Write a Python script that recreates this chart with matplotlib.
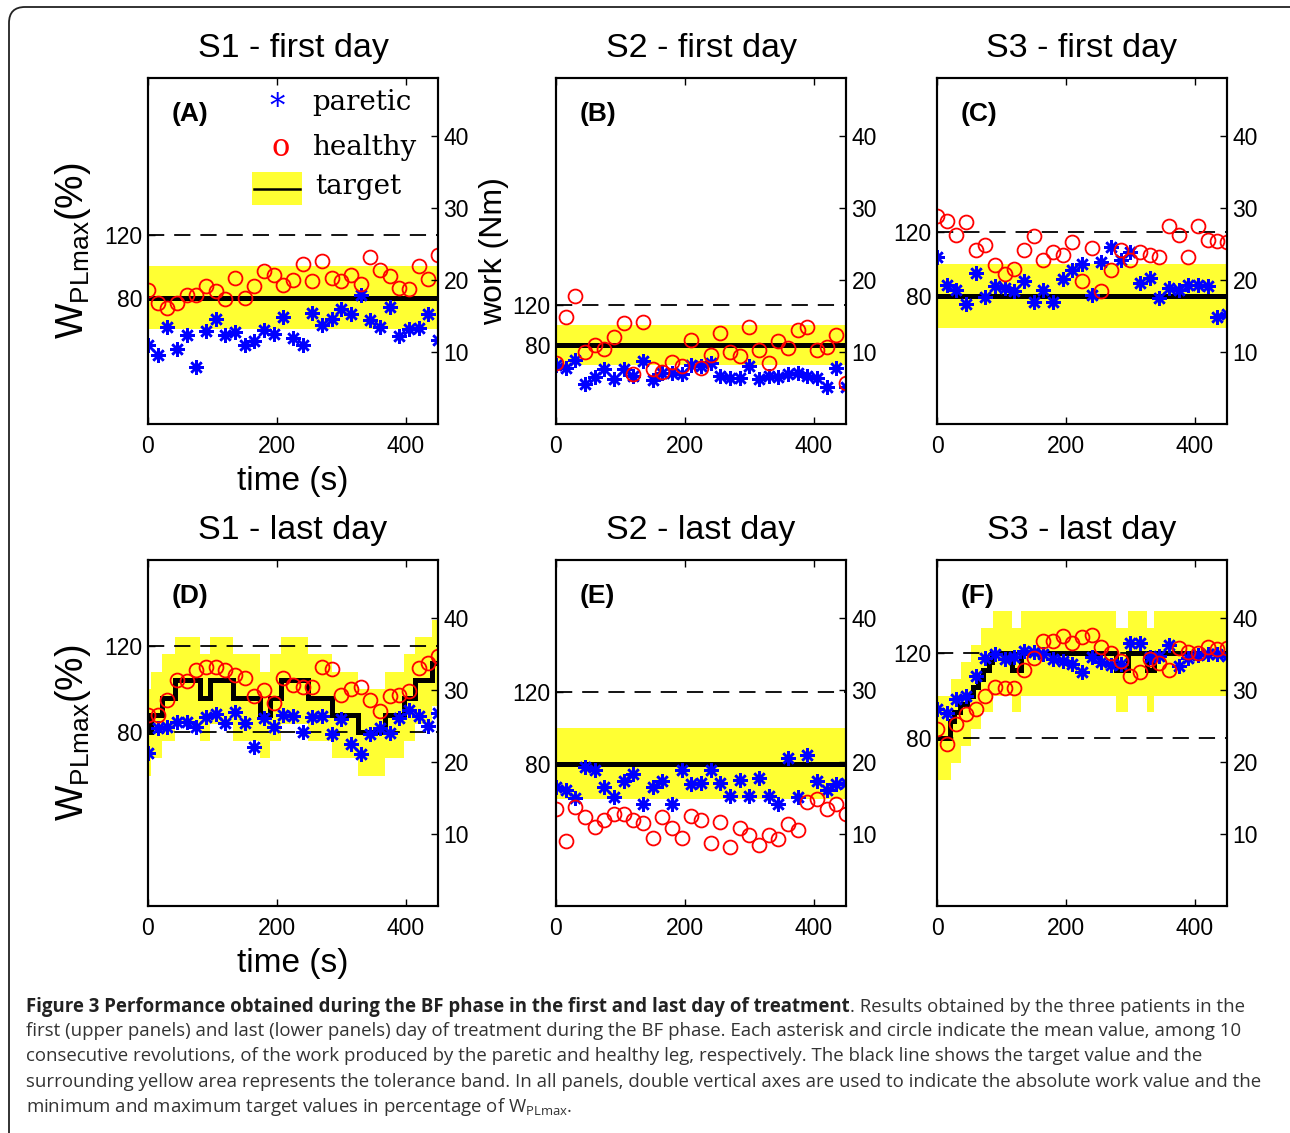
import numpy as np
import matplotlib.pyplot as plt
from matplotlib.patches import FancyBboxPatch, Rectangle

plt.rcParams['font.family'] = ['Liberation Sans', 'DejaVu Sans']
plt.rcParams['mathtext.fontset'] = 'custom'
plt.rcParams['mathtext.rm'] = 'Liberation Sans'

# time of each 10-revolution block (s)
time_s = [0, 15, 30, 45, 60, 75, 90, 105, 120, 135, 150, 165, 180, 195, 210, 225,
          240, 255, 270, 285, 300, 315, 330, 345, 360, 375, 390, 405, 420, 435, 450]

titles = ['S1 - first day', 'S2 - first day', 'S3 - first day',
          'S1 - last day', 'S2 - last day', 'S3 - last day']
tags = ['(A)', '(B)', '(C)', '(D)', '(E)', '(F)']

# W_PLmax of each panel (Nm)
w_plmax = [21.85, 13.7, 22.2, 30.1, 24.7, 29.2]

# work (Nm)
paretic_a = [11.0, 9.6, 13.5, 10.4, 12.4, 7.9, 12.9, 14.6, 12.4, 12.7, 10.9, 11.5, 13.0, 12.5, 14.8, 11.9,
             11.0, 15.4, 13.7, 14.6, 16.0, 15.3, 17.9, 14.4, 13.5, 16.3, 12.2, 13.2, 13.3, 15.2, 11.7]
healthy_a = [18.6, 16.8, 16.1, 16.8, 17.9, 17.9, 19.1, 18.4, 17.3, 20.2, 17.5, 19.1, 21.2, 20.7, 19.3, 20.0,
             22.2, 19.9, 22.6, 20.2, 19.9, 20.7, 19.4, 23.2, 21.4, 20.6, 18.8, 18.7, 21.9, 20.1, 23.5]
paretic_b = [8.2, 7.8, 8.9, 5.6, 6.5, 7.6, 6.3, 7.6, 6.7, 8.8, 6.1, 7.1, 7.1, 6.9, 8.2, 8.0,
             8.4, 6.7, 6.4, 6.4, 8.1, 6.2, 6.7, 6.5, 7.0, 7.1, 6.6, 6.4, 5.1, 7.8, 5.2]
healthy_b = [8.4, 14.8, 17.8, 10.0, 10.9, 10.4, 12.1, 14.0, 6.9, 14.2, 7.6, 7.2, 8.6, 8.0, 11.6, 7.7,
             9.6, 12.6, 10.0, 9.5, 13.5, 10.3, 8.5, 11.5, 10.6, 13.0, 13.5, 10.2, 10.7, 12.3, 5.7]
paretic_c = [23.1, 19.3, 18.6, 16.6, 20.9, 17.6, 19.1, 18.9, 18.4, 19.8, 16.9, 18.6, 16.9, 20.1, 21.4, 22.2,
             17.9, 22.5, 24.6, 22.8, 23.9, 19.6, 20.2, 17.5, 18.8, 18.6, 19.3, 19.3, 19.1, 14.8, 15.3]
healthy_c = [28.8, 28.2, 26.2, 28.0, 24.1, 24.8, 22.1, 20.8, 21.5, 24.1, 26.1, 22.8, 23.8, 23.5, 25.3, 19.9,
             24.4, 18.4, 21.3, 24.2, 22.8, 23.8, 23.5, 23.2, 27.5, 26.2, 23.1, 27.5, 25.5, 25.4, 25.2]
paretic_d = [21.2, 24.7, 24.8, 25.5, 25.5, 24.9, 26.2, 26.7, 25.4, 26.9, 25.4, 22.1, 26.1, 24.8, 26.5, 26.3,
             24.1, 26.2, 26.3, 23.9, 25.9, 22.5, 21.1, 23.8, 24.7, 24.0, 26.1, 27.2, 26.4, 25.0, 26.8]
healthy_d = [26.5, 26.5, 28.6, 31.4, 31.2, 32.7, 33.2, 33.2, 32.8, 32.1, 31.6, 29.1, 30.0, 28.2, 31.6, 30.6,
             30.4, 30.4, 33.2, 32.9, 29.3, 30.1, 30.4, 28.6, 27.0, 29.1, 29.3, 29.8, 33.0, 33.7, 34.7]
paretic_e = [16.5, 16.1, 15.0, 19.3, 18.8, 16.5, 15.1, 17.3, 18.3, 14.2, 16.5, 17.4, 14.1, 18.8, 16.9, 17.0,
             18.8, 17.0, 15.3, 17.5, 15.2, 17.7, 15.2, 14.2, 20.6, 15.1, 21.0, 17.4, 16.1, 16.9, 17.1]
healthy_e = [13.4, 9.0, 13.7, 12.4, 11.0, 11.9, 12.7, 12.8, 11.9, 11.5, 9.5, 12.3, 10.8, 9.5, 12.5, 11.9,
             8.8, 11.6, 8.2, 10.8, 9.9, 8.5, 9.8, 9.3, 11.4, 10.6, 14.4, 14.8, 13.4, 14.2, 12.8]
paretic_f = [27.3, 26.8, 28.7, 29.1, 31.9, 34.4, 34.9, 34.3, 34.6, 35.4, 35.2, 34.9, 34.3, 34.0, 33.6, 32.4,
             34.5, 33.8, 33.4, 33.6, 36.5, 36.5, 34.6, 34.7, 36.2, 33.3, 34.4, 34.8, 34.9, 35.0, 34.7]
healthy_f = [24.5, 22.5, 25.2, 26.7, 27.3, 29.1, 30.4, 30.2, 30.2, 32.8, 34.4, 36.7, 36.7, 37.4, 36.5, 37.3,
             37.6, 36.0, 35.1, 34.0, 31.9, 32.4, 34.2, 33.7, 32.8, 35.8, 35.3, 35.1, 36.0, 35.6, 35.8]

# target (% of W_PLmax), as steps
flat_edges = [0, 450]
flat_pct = [80]
target_edges_d = [0, 4.7, 21, 42, 81, 96, 132, 174, 189, 207, 249, 285, 326, 367, 398, 414, 440, 450]
target_pct_d = [80, 88, 96, 104, 96, 104, 96, 88, 96, 104, 96, 88, 80, 88, 96, 104, 112]
target_edges_f = [0, 20, 27, 35, 47, 56, 64, 72, 80, 86, 117, 130, 277, 296, 326, 337, 450]
target_pct_f = [80, 88, 92, 96, 100, 104, 108, 112, 116, 120, 112, 120, 112, 120, 112, 120]
band_edges_f = [0, 22, 37, 53, 68, 87, 117, 130, 277, 296, 326, 337, 450]
band_pct_f = [80, 88, 96, 104, 112, 120, 112, 120, 112, 120, 112, 120]
band_half = 20  # tolerance, % of W_PLmax

dashed_top = [120]
dashed_both = [80, 120]

panels = [
    (paretic_a, healthy_a, flat_edges, flat_pct, flat_edges, flat_pct, dashed_top),
    (paretic_b, healthy_b, flat_edges, flat_pct, flat_edges, flat_pct, dashed_top),
    (paretic_c, healthy_c, flat_edges, flat_pct, flat_edges, flat_pct, dashed_top),
    (paretic_d, healthy_d, target_edges_d, target_pct_d, target_edges_d, target_pct_d, dashed_both),
    (paretic_e, healthy_e, flat_edges, flat_pct, flat_edges, flat_pct, dashed_top),
    (paretic_f, healthy_f, target_edges_f, target_pct_f, band_edges_f, band_pct_f, dashed_both),
]

YELLOW = '#ffff33'
W, H = 1290, 1133
fig = plt.figure(figsize=(W / 100, H / 100), dpi=100)

box = FancyBboxPatch((0.09, -0.3), 13.3, 11.56, boxstyle='round,pad=0,rounding_size=0.16',
                     transform=fig.dpi_scale_trans, facecolor='none', edgecolor='#222222',
                     linewidth=1.3, clip_on=False)
fig.patches.append(box)

lefts = [148, 556, 937]
bottoms = [424, 906]
aw, ah = 290, 346

axes = []
for i, (par, hea, t_edges, t_pct, b_edges, b_pct, dashed) in enumerate(panels):
    r, c = divmod(i, 3)
    ax = fig.add_axes([lefts[c] / W, 1 - bottoms[r] / H, aw / W, ah / H])
    wmax = w_plmax[i]
    b_nm = np.array(b_pct) / 100 * wmax
    ax.stairs(b_nm + band_half / 100 * wmax, b_edges, baseline=b_nm - band_half / 100 * wmax,
              fill=True, color=YELLOW, linewidth=0, zorder=1)
    for p in dashed:
        ax.axhline(p / 100 * wmax, color='k', lw=1.3, dashes=(9, 5.5), zorder=2)
    ax.stairs(np.array(t_pct) / 100 * wmax, t_edges, baseline=None, color='k', lw=3.6, zorder=3)
    ax.plot(time_s, par, linestyle='none', marker=(8, 2, 0), ms=10.5, mew=1.8, color='#0000ff', zorder=4)
    ax.plot(time_s, hea, linestyle='none', marker='o', ms=10, mew=1.3, mfc='none', mec='#ff0000', zorder=5)

    ax.set_xlim(0, 450)
    ax.set_ylim(0, 48)
    ax.set_xticks([0, 200, 400])
    ax.set_yticks([0.8 * wmax, 1.2 * wmax])
    ax.set_yticklabels(['80', '120'])
    ax.tick_params(axis='both', direction='in', labelsize=16.5, length=5, width=1, top=True)
    ax.tick_params(axis='x', pad=8)
    ax.tick_params(axis='y', pad=4)
    for s in ax.spines.values():
        s.set_linewidth(1.5)

    ax2 = ax.twinx()
    ax2.set_ylim(0, 48)
    ax2.set_yticks([10, 20, 30, 40])
    ax2.tick_params(axis='y', direction='in', labelsize=16.5, length=5, width=1, pad=4)
    for s in ax2.spines.values():
        s.set_linewidth(1.5)

    ax.set_title(titles[i], fontsize=24.5, pad=15)
    ax.text(0.083, 0.895, tags[i], transform=ax.transAxes, fontsize=19, fontweight='bold',
            va='center', ha='left')
    axes.append(ax)

for ax in (axes[0], axes[3]):
    ax.set_xlabel('time (s)', fontsize=24, labelpad=6)
    ax.set_ylabel(r'W$_{\mathregular{PLmax}}$(%)', fontsize=27, labelpad=8)
axes[1].set_ylabel('work (Nm)', fontsize=23, labelpad=2)

# legend of panel A
la = axes[0]
serif = 'DejaVu Serif'
la.text(0.445, 0.915, '*', transform=la.transAxes, color='#0000ff', fontsize=22,
        family=serif, ha='center', va='center')
la.text(0.566, 0.93, 'paretic', transform=la.transAxes, fontsize=20, family=serif, va='center')
la.text(0.459, 0.80, 'o', transform=la.transAxes, color='#ff0000', fontsize=22,
        family=serif, ha='center', va='center')
la.text(0.566, 0.80, 'healthy', transform=la.transAxes, fontsize=20, family=serif, va='center')
la.add_patch(Rectangle((0.359, 0.633), 0.172, 0.095, transform=la.transAxes,
                       facecolor=YELLOW, edgecolor='none', zorder=6))
la.plot([0.365, 0.525], [0.679, 0.679], transform=la.transAxes, color='k', lw=1.8, zorder=7)
la.text(0.576, 0.685, 'target', transform=la.transAxes, fontsize=20, family=serif, va='center')

# caption
cap_font = 'Open Sans'
cap_bold = 'Figure 3 Performance obtained during the BF phase in the first and last day of treatment'
cap_lines = [
    '. Results obtained by the three patients in the',
    'first (upper panels) and last (lower panels) day of treatment during the BF phase. '
    'Each asterisk and circle indicate the mean value, among 10',
    'consecutive revolutions, of the work produced by the paretic and healthy leg, respectively. '
    'The black line shows the target value and the',
    'surrounding yellow area represents the tolerance band. In all panels, double vertical axes '
    'are used to indicate the absolute work value and the',
    r'minimum and maximum target values in percentage of W$_{\mathregular{PLmax}}$.',
]
cap_base = [1012, 1036, 1061, 1087, 1112]
cap_right = [1251, 1236, 1236]  # widths of lines 2-4 in the reference (px)

renderer = fig.canvas.get_renderer()
scales = []
for line, target_w in zip(cap_lines[1:4], cap_right):
    probe = fig.text(0, 0, line, fontsize=10, family=cap_font)
    scales.append(target_w / probe.get_window_extent(renderer).width)
    probe.remove()
cap_size = 10 * min(scales)

x0 = 26 / W
tb = fig.text(x0, 1 - cap_base[0] / H, cap_bold, fontsize=cap_size, family=cap_font,
              fontweight='bold', va='baseline', color='#222222')
x1 = tb.get_window_extent(renderer).x1 / W
fig.text(x1, 1 - cap_base[0] / H, cap_lines[0], fontsize=cap_size, family=cap_font,
         va='baseline', color='#333333')
for line, yb in zip(cap_lines[1:], cap_base[1:]):
    fig.text(x0, 1 - yb / H, line, fontsize=cap_size, family=cap_font, va='baseline', color='#333333')

fig.savefig('out.png', dpi=100)
